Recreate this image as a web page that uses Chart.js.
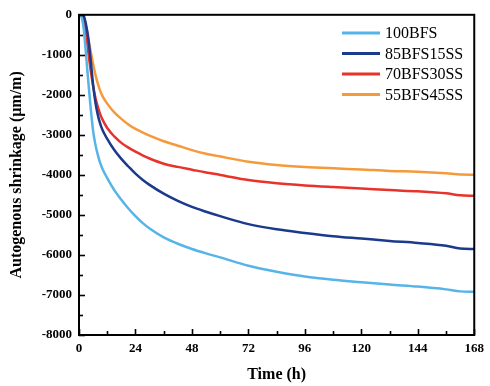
<!DOCTYPE html>
<html>
<head>
<meta charset="utf-8">
<script src="https://cdn.jsdelivr.net/npm/chart.js@4/dist/chart.umd.min.js"></script>
<style>
  html, body { margin: 0; padding: 0; background: #fff; }
  #wrap { width: 490px; height: 386px; }
</style>
</head>
<body>
<div id="wrap"><canvas id="shrinkChart"></canvas></div>
<script>
// Time (h) sampled along the curves
const hours = [0, 1, 2, 3, 4, 5, 6, 7, 8, 9, 10, 12, 15, 18, 21, 24, 27, 30, 36, 42, 48, 54, 60, 72, 84, 96, 108, 120, 132, 144, 156, 162, 168];

// Autogenous shrinkage (um/m) for each mix
const bfs100 = [0, -50, -350, -1000, -1700, -2350, -2900, -3250, -3500, -3700, -3850, -4080, -4380, -4620, -4840, -5030, -5200, -5340, -5560, -5720, -5850, -5960, -6060, -6270, -6420, -6540, -6620, -6680, -6740, -6790, -6860, -6910, -6920];
const bfs85ss15 = [0, 0, -30, -250, -600, -1150, -1750, -2200, -2500, -2720, -2880, -3100, -3380, -3600, -3790, -3970, -4120, -4250, -4470, -4650, -4800, -4920, -5030, -5230, -5360, -5450, -5530, -5590, -5650, -5700, -5770, -5840, -5850];
const bfs70ss30 = [0, 0, -80, -450, -950, -1400, -1780, -2080, -2300, -2480, -2620, -2830, -3040, -3200, -3320, -3420, -3510, -3590, -3720, -3800, -3870, -3940, -4000, -4130, -4210, -4265, -4305, -4340, -4380, -4410, -4460, -4510, -4520];
const bfs55ss45 = [0, 0, -60, -300, -620, -920, -1230, -1500, -1720, -1900, -2030, -2220, -2440, -2600, -2740, -2850, -2940, -3020, -3160, -3270, -3380, -3470, -3540, -3670, -3750, -3800, -3835, -3865, -3900, -3920, -3960, -3990, -3995];

const seriesNames = ['100BFS', '85BFS15SS', '70BFS30SS', '55BFS45SS'];
const seriesColors = ['#56b4e9', '#1b3a8c', '#e8332a', '#f59a3a'];
const seriesValues = [bfs100, bfs85ss15, bfs70ss30, bfs55ss45];

const serif = "'Times New Roman', 'Liberation Serif', serif";

// frame, inward ticks and legend drawn by hand
const framePlugin = {
    id: 'frame',
    afterDraw(chart) {
        const ctx = chart.ctx;
        const area = chart.chartArea;
        const xs = chart.scales.x;
        const ys = chart.scales.y;
        ctx.save();
        ctx.strokeStyle = '#000';

        // ticks pointing into the plot
        ctx.lineWidth = 1.6;
        for (let v = 0; v <= 168; v += 12) {
            const px = Math.round(xs.getPixelForValue(v)) + 0.5;
            const len = v % 24 === 0 ? 6 : 4;
            ctx.beginPath();
            ctx.moveTo(px, area.bottom);
            ctx.lineTo(px, area.bottom - len);
            ctx.stroke();
        }
        for (let v = -8000; v <= 0; v += 500) {
            const py = Math.round(ys.getPixelForValue(v)) + 0.5;
            const len = v % 1000 === 0 ? 6 : 4;
            ctx.beginPath();
            ctx.moveTo(area.left, py);
            ctx.lineTo(area.left + len, py);
            ctx.stroke();
        }

        // box
        ctx.lineWidth = 2;
        ctx.strokeRect(area.left, area.top, area.right - area.left, area.bottom - area.top);

        // legend
        ctx.font = '16px ' + serif;
        ctx.textBaseline = 'middle';
        ctx.fillStyle = '#000';
        chart.data.datasets.forEach((ds, i) => {
            const y = 33 + i * 20.5;
            ctx.strokeStyle = ds.borderColor;
            ctx.lineWidth = 3;
            ctx.beginPath();
            ctx.moveTo(342, y);
            ctx.lineTo(380, y);
            ctx.stroke();
            ctx.fillText(ds.label, 385, y + 1);
        });
        ctx.restore();
    }
};

const ctx = document.getElementById('shrinkChart').getContext('2d');
new Chart(ctx, {
    type: 'line',
    data: {
        datasets: seriesNames.map((name, i) => ({
            label: name,
            data: hours.map((h, j) => ({ x: h, y: seriesValues[i][j] })),
            borderColor: seriesColors[i],
            backgroundColor: seriesColors[i],
            borderWidth: 2.5,
            pointRadius: 0,
            cubicInterpolationMode: 'monotone',
            fill: false
        }))
    },
    options: {
        responsive: true,
        maintainAspectRatio: false,
        animation: false,
        layout: {
            padding: { left: 0, top: 13, right: 10, bottom: 0 }
        },
        plugins: {
            legend: { display: false },
            tooltip: { enabled: false }
        },
        scales: {
            x: {
                type: 'linear',
                min: 0,
                max: 168,
                grid: { display: false, drawTicks: false },
                border: { display: false },
                ticks: {
                    stepSize: 24,
                    padding: 6,
                    color: '#000',
                    maxRotation: 0,
                    font: { family: serif, size: 13, weight: 'bold' }
                },
                title: {
                    display: true,
                    text: 'Time (h)',
                    color: '#000',
                    padding: { top: 0, bottom: 2 },
                    font: { family: serif, size: 16, weight: 'bold' }
                },
                afterFit(scale) { scale.height = 51; }
            },
            y: {
                min: -8000,
                max: 0,
                grid: { display: false, drawTicks: false },
                border: { display: false },
                ticks: {
                    stepSize: 1000,
                    padding: 7,
                    color: '#000',
                    font: { family: serif, size: 13, weight: 'bold' },
                    callback: v => String(v)
                },
                title: {
                    display: true,
                    text: 'Autogenous shrinkage (μm/m)',
                    color: '#000',
                    padding: { top: 7, bottom: 0 },
                    font: { family: serif, size: 16, weight: 'bold' }
                },
                afterFit(scale) { scale.width = 79; }
            }
        }
    },
    plugins: [framePlugin]
});
</script>
</body>
</html>
